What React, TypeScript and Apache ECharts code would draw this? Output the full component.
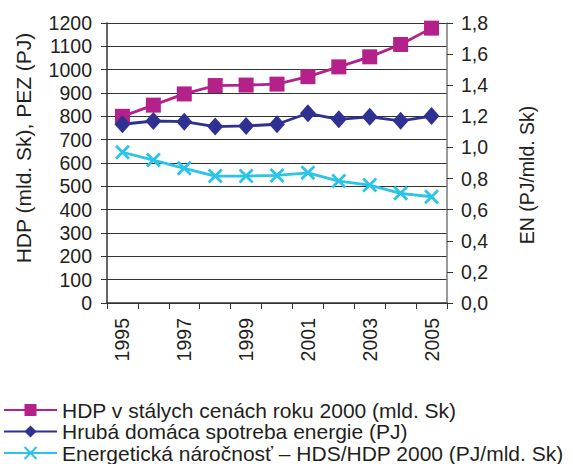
import React, { useEffect, useRef } from "react";
import * as echarts from "echarts";

const years = ["1995", "1996", "1997", "1998", "1999", "2000", "2001", "2002", "2003", "2004", "2005"];
const hdp = [800, 848, 896, 932, 934, 938, 970, 1012, 1055, 1108, 1178];
const hds = [766, 780, 777, 756, 759, 766, 813, 787, 798, 781, 801];
const en = [0.969, 0.919, 0.866, 0.816, 0.816, 0.82, 0.837, 0.784, 0.758, 0.705, 0.683];

const seriesNames = [
  "HDP v stálych cenách roku 2000 (mld. Sk)",
  "Hrubá domáca spotreba energie (PJ)",
  "Energetická náročnosť – HDS/HDP 2000 (PJ/mld. Sk)",
];
const leftAxisName = "HDP (mld. Sk), PEZ (PJ)";
const rightAxisName = "EN (PJ/mld. Sk)";

const FONT = "Liberation Sans, Arial, sans-serif";
const TXT = "#231f20";

const legendTops = [399.5, 421, 442.5];

export default function App() {
  const ref = useRef<HTMLDivElement>(null);
  useEffect(() => {
    if (!ref.current) return;
    const chart = echarts.init(ref.current, undefined, { renderer: "svg" });
    chart.setOption({
      animation: false,
      textStyle: { fontFamily: FONT, color: TXT },
      grid: { left: 107, right: 126, top: 23, bottom: 161 },
      legend: seriesNames.map((n, i) => ({
        orient: "vertical",
        left: 3,
        top: legendTops[i],
        padding: 0,
        itemWidth: 53,
        itemHeight: 15,
        textStyle: { fontFamily: FONT, fontSize: 21, color: TXT, lineHeight: 21 },
        data: [n],
      })),
      graphic: [
        {
          type: "text",
          x: 23,
          y: 148,
          rotation: Math.PI / 2,
          style: {
            text: leftAxisName,
            fontSize: 21,
            fontFamily: FONT,
            fill: TXT,
            align: "center",
            verticalAlign: "middle",
          },
        },
        {
          type: "text",
          x: 527,
          y: 175,
          rotation: Math.PI / 2,
          style: {
            text: rightAxisName,
            fontSize: 19.5,
            fontFamily: FONT,
            fill: TXT,
            align: "center",
            verticalAlign: "middle",
          },
        },
      ],
      xAxis: {
        type: "category",
        data: years,
        boundaryGap: true,
        axisLine: { lineStyle: { color: "#333", width: 1.5 } },
        axisTick: { show: true, interval: 0, length: 6, lineStyle: { color: "#333" } },
        axisLabel: { interval: 1, rotate: 90, fontSize: 19.5, color: TXT, margin: 15, fontFamily: FONT },
      },
      yAxis: [
        {
          type: "value",
          min: 0,
          max: 1200,
          interval: 100,
          axisLine: { show: true, lineStyle: { color: "#333", width: 1.5 } },
          axisTick: { show: true, length: 6, lineStyle: { color: "#333" } },
          axisLabel: {
            fontSize: 19.5,
            color: TXT,
            margin: 15,
            fontFamily: FONT,
            formatter: (v: number) => String(v),
          },
          splitLine: { show: true, lineStyle: { color: "#333", width: 1 } },
        },
        {
          type: "value",
          min: 0,
          max: 1.8,
          interval: 0.2,
          position: "right",
          axisLine: { show: true, lineStyle: { color: "#777", width: 1.5 } },
          axisTick: { show: true, length: 6, lineStyle: { color: "#333" } },
          axisLabel: {
            fontSize: 19.5,
            color: TXT,
            margin: 14,
            fontFamily: FONT,
            formatter: (v: number) => v.toFixed(1).replace(".", ","),
          },
          splitLine: { show: false },
        },
      ],
      series: [
        {
          name: seriesNames[0],
          type: "line",
          yAxisIndex: 0,
          data: hdp,
          symbol: "rect",
          symbolSize: 15,
          lineStyle: { color: "#b5218b", width: 2.8 },
          itemStyle: { color: "#b5218b" },
        },
        {
          name: seriesNames[1],
          type: "line",
          yAxisIndex: 0,
          data: hds,
          symbol: "diamond",
          symbolSize: [16, 18],
          lineStyle: { color: "#2e3192", width: 2.8 },
          itemStyle: { color: "#2e3192" },
        },
        {
          name: seriesNames[2],
          type: "line",
          yAxisIndex: 1,
          data: en,
          symbol: "path://M0,0 L10,10 M10,0 L0,10",
          symbolSize: 13,
          lineStyle: { color: "#29c4e8", width: 2.8 },
          itemStyle: { color: "transparent", borderColor: "#29c4e8", borderWidth: 2.8 },
        },
      ],
    });
    return () => chart.dispose();
  }, []);
  return <div ref={ref} style={{ width: 573, height: 464, position: "absolute", left: 0, top: 0 }} />;
}
